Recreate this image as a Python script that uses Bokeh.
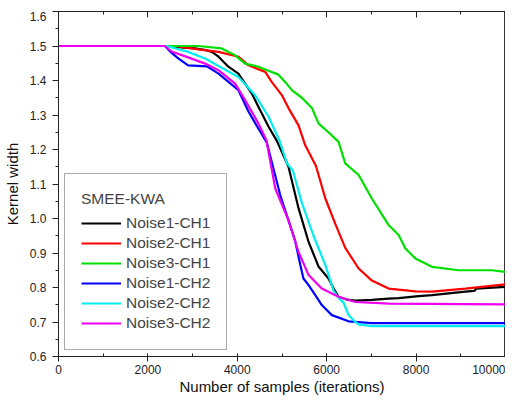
from bokeh.plotting import figure
from bokeh.layouts import column
from bokeh.models import (Legend, LegendItem, LinearAxis, SingleIntervalTicker,
                          Range1d, PrintfTickFormatter, CustomJSTickFormatter, Spacer)
from bokeh.embed import file_html
from bokeh.resources import INLINE

# ---------------- data ----------------
series_names = ["Noise1-CH1", "Noise2-CH1", "Noise3-CH1",
                "Noise1-CH2", "Noise2-CH2", "Noise3-CH2"]
series_colors = ["#000000", "#ff0000", "#00e000", "#0000ff", "#00eeee", "#ee00ee"]

x_n1ch1 = [0, 2450, 2800, 3055, 3300, 3430, 3580, 3800, 4025, 4175, 4325, 4550, 4700,
           4885, 5145, 5370, 5595, 5820, 6040, 6155, 6265, 6450, 6640, 7010, 7385,
           7610, 8060, 8355, 9100, 9300, 9350, 10000]
y_n1ch1 = [1.5, 1.5, 1.495, 1.493, 1.488, 1.483, 1.469, 1.440, 1.420, 1.391, 1.362,
           1.304, 1.266, 1.225, 1.150, 1.030, 0.932, 0.860, 0.826, 0.797, 0.773,
           0.765, 0.762, 0.764, 0.768, 0.769, 0.775, 0.778, 0.788, 0.790, 0.797, 0.802]

x_n2ch1 = [0, 2600, 3130, 3580, 4025, 4250, 4625, 4770, 5000, 5145, 5370, 5520, 5760,
           5970, 6190, 6415, 6715, 7010, 7385, 7985, 8355, 9100, 10000]
y_n2ch1 = [1.5, 1.5, 1.490, 1.483, 1.469, 1.444, 1.425, 1.396, 1.357, 1.320, 1.270,
           1.212, 1.152, 1.058, 0.985, 0.915, 0.855, 0.820, 0.797, 0.789, 0.788,
           0.797, 0.809]

x_n3ch1 = [0, 2600, 3130, 3650, 3950, 4175, 4475, 4625, 4920, 5070, 5220, 5445, 5670,
           5820, 6040, 6265, 6415, 6715, 7010, 7385, 7610, 7760, 7985, 8355, 8955,
           9700, 10000]
y_n3ch1 = [1.5, 1.5, 1.500, 1.493, 1.473, 1.449, 1.440, 1.432, 1.417, 1.396, 1.372,
           1.350, 1.320, 1.275, 1.250, 1.222, 1.160, 1.126, 1.058, 0.981, 0.952,
           0.913, 0.884, 0.860, 0.850, 0.850, 0.845]

x_n1ch2 = [0, 2380, 2530, 2680, 2900, 3320, 3580, 4025, 4250, 4475, 4660, 4960, 5295,
           5410, 5480, 5595, 5745, 5890, 6115, 6490, 7010, 10000]
y_n1ch2 = [1.5, 1.5, 1.480, 1.464, 1.444, 1.441, 1.420, 1.372, 1.310, 1.260, 1.220,
           1.068, 0.935, 0.865, 0.826, 0.807, 0.778, 0.749, 0.720, 0.702, 0.697, 0.697]

x_n2ch2 = [0, 2420, 2900, 3280, 3580, 4025, 4400, 4700, 4940, 5110, 5240, 5445, 5705,
           5970, 6155, 6265, 6380, 6490, 6640, 6715, 7000, 10000]
y_n2ch2 = [1.5, 1.5, 1.483, 1.464, 1.442, 1.410, 1.357, 1.295, 1.227, 1.160, 1.140,
           1.045, 0.950, 0.865, 0.790, 0.770, 0.755, 0.720, 0.700, 0.693, 0.688, 0.688]

x_n3ch2 = [0, 2380, 2530, 2900, 3280, 3580, 3950, 4175, 4475, 4650, 4850, 5145, 5370,
           5595, 5890, 6265, 6640, 7385, 10000]
y_n3ch2 = [1.5, 1.5, 1.484, 1.467, 1.449, 1.430, 1.391, 1.343, 1.275, 1.227, 1.087,
           0.995, 0.903, 0.836, 0.797, 0.773, 0.758, 0.753, 0.751]

xs = [x_n1ch1, x_n2ch1, x_n3ch1, x_n1ch2, x_n2ch2, x_n3ch2]
ys = [y_n1ch1, y_n2ch1, y_n3ch1, y_n1ch2, y_n2ch2, y_n3ch2]

legend_title = "SMEE-KWA"
x_label = "Number of samples (iterations)"
y_label = "Kernel width"

FONT = "Liberation Sans"

# ---------------- figure ----------------
fig = figure(frame_width=447, frame_height=345,
             x_range=Range1d(0, 10000), y_range=Range1d(0.6, 1.6),
             output_backend="svg", toolbar_location=None,
             min_border_left=52, min_border_right=0, min_border_top=0, min_border_bottom=0)
fig.grid.visible = False
fig.outline_line_color = "#333333"
fig.outline_line_width = 1

xt = SingleIntervalTicker(interval=2000, num_minor_ticks=2)
yt = SingleIntervalTicker(interval=0.1, num_minor_ticks=2)

xa = fig.xaxis[0]
xa.ticker = xt
xa.axis_label = x_label
xa.major_tick_out = 5
xa.major_tick_in = 0
xa.minor_tick_out = 0
xa.minor_tick_in = 3
xa.major_label_standoff = 3
xa.axis_label_standoff = 1
ya = fig.yaxis[0]
ya.ticker = yt
ya.formatter = PrintfTickFormatter(format="%.1f")
ya.axis_label = y_label
ya.major_tick_out = 6
ya.major_tick_in = 0
ya.minor_tick_out = 3
ya.minor_tick_in = 0
ya.major_label_standoff = 6
ya.axis_label_standoff = 6

for ax in (xa, ya):
    ax.axis_line_color = "#222222"
    ax.major_tick_line_color = "#222222"
    ax.minor_tick_line_color = "#222222"
    ax.major_label_text_font = FONT
    ax.major_label_text_font_size = "12px"
    ax.major_label_text_color = "#222222"
    ax.axis_label_text_font = FONT
    ax.axis_label_text_font_size = "15px"
    ax.axis_label_text_font_style = "normal"
    ax.axis_label_text_color = "#111111"

top = LinearAxis(ticker=SingleIntervalTicker(interval=2000, num_minor_ticks=2),
                 formatter=CustomJSTickFormatter(code="return ''"),
                 major_label_standoff=0,
                 major_tick_in=6, major_tick_out=0, minor_tick_in=3, minor_tick_out=0,
                 axis_line_color="#222222", major_tick_line_color="#222222",
                 minor_tick_line_color="#222222")
fig.add_layout(top, "above")

renderers = []
for x, y, c in zip(xs, ys, series_colors):
    r = fig.line(x, y, line_color=c, line_width=2.2)
    renderers.append(r)

items = [LegendItem(label=n, renderers=[r]) for n, r in zip(series_names, renderers)]
legend = Legend(items=items, title=legend_title, location=(6, 6), margin=0,
                padding=16, spacing=0, label_height=20, glyph_height=20, glyph_width=40,
                label_standoff=5, label_text_font=FONT, label_text_font_size="15.5px",
                title_text_font=FONT, title_text_font_size="15.5px",
                title_text_font_style="normal", title_standoff=5,
                border_line_color="#555555", border_line_width=1,
                background_fill_color="white", background_fill_alpha=1)
fig.add_layout(legend)

p = column(Spacer(width=10, height=11), fig, spacing=0)

open("out.html", "w").write(file_html(p, INLINE))
